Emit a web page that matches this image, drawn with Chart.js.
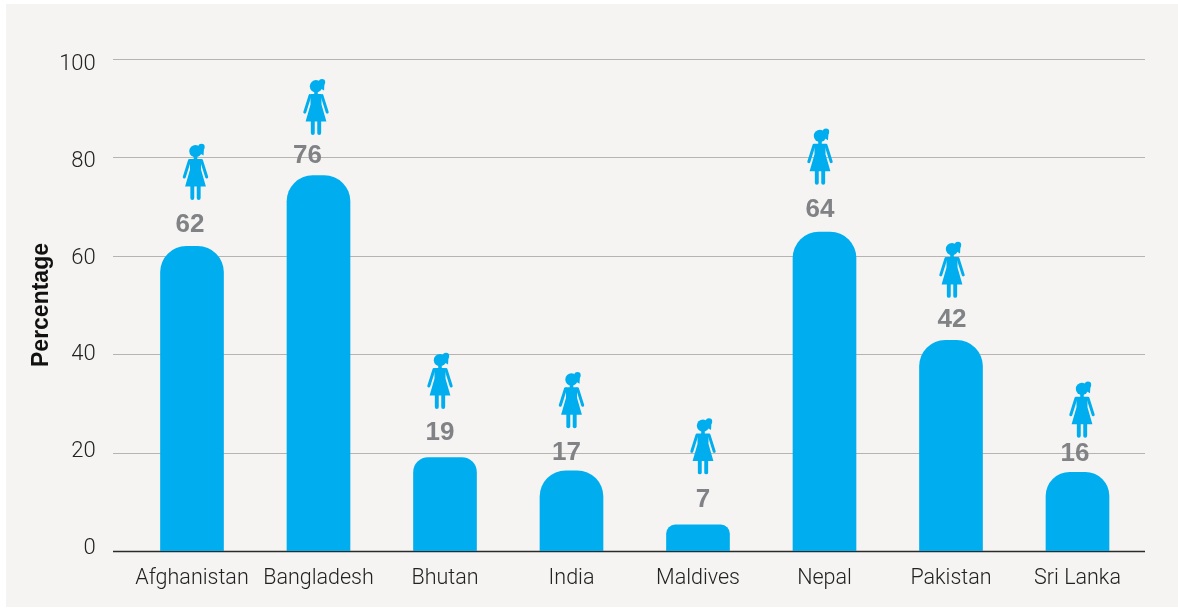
<!DOCTYPE html>
<html><head><meta charset="utf-8">
<script src="https://cdn.jsdelivr.net/npm/chart.js@4"></script>
<style>
html,body{margin:0;padding:0;background:#fff;width:1178px;height:608px;overflow:hidden}
#panel{position:absolute;left:6px;top:4px;width:1172px;height:603px;background:#f5f4f2}
#wrap{position:absolute;left:0;top:0;width:1178px;height:608px}
</style></head><body>
<div id="panel"></div>
<div id="wrap"><canvas id="c" width="1178" height="608"></canvas></div>
<script>
const categories=["Afghanistan","Bangladesh","Bhutan","India","Maldives","Nepal","Pakistan","Sri Lanka"];
const barHeights=[61.9,76.3,19,16.3,5.3,64.8,42.8,16];
const printedValues=[62,76,19,17,7,64,42,16];
const yTicks=[0,20,40,60,80,100];
const valueLabelShift=[-2,-11,-5,-5,5,-4.5,1,-2.5];
const valueLabelLift=[22,20,25,18,25,22,21,18];
const iconShift=[3.5,-2.5,-5,0,5,-4.5,1,4.5];
const iconLift=[103,97,105,99,107,104,99,91];
const cornerRadii=[26,26,15,26,9,26,26,24];

function drawGirl(ctx,x,top){
  ctx.save();
  ctx.translate(x,top);
  ctx.fillStyle='#00aeef';ctx.strokeStyle='#00aeef';
  ctx.beginPath();ctx.arc(0,7.7,6.2,0,Math.PI*2);ctx.fill();
  ctx.beginPath();ctx.arc(6,3.5,3.2,0,Math.PI*2);ctx.fill();
  ctx.beginPath();ctx.moveTo(2,3);ctx.lineTo(8.5,4.5);ctx.lineTo(8,12);ctx.lineTo(3,9);ctx.closePath();ctx.fill();
  ctx.fillRect(-1.8,12,3.6,5);
  ctx.beginPath();
  ctx.moveTo(-5.5,15.5);ctx.lineTo(5.5,15.5);ctx.lineTo(5.5,26);ctx.lineTo(10.4,43);
  ctx.lineTo(-10.4,43);ctx.lineTo(-5.5,26);ctx.closePath();ctx.fill();
  ctx.lineCap='round';ctx.lineWidth=3;
  ctx.beginPath();ctx.moveTo(-6,17);ctx.lineTo(-11.2,33.5);ctx.stroke();
  ctx.beginPath();ctx.moveTo(6,17);ctx.lineTo(11.2,33.5);ctx.stroke();
  ctx.lineWidth=3.9;
  ctx.beginPath();ctx.moveTo(-3.2,42);ctx.lineTo(-3.2,54.5);ctx.stroke();
  ctx.beginPath();ctx.moveTo(3.2,42);ctx.lineTo(3.2,54.5);ctx.stroke();
  ctx.restore();
}

const extendedRules={
  id:'extendedRules',
  beforeDatasetsDraw(chart){
    const ctx=chart.ctx,y=chart.scales.y;
    ctx.save();
    yTicks.forEach(v=>{
      const py=Math.round(y.getPixelForValue(v))+0.5;
      ctx.beginPath();ctx.moveTo(113,py);ctx.lineTo(1145,py);
      ctx.lineWidth=v===0?1.5:1;
      ctx.strokeStyle=v===0?'#2b2b2b':'#b5b4b1';
      ctx.stroke();
    });
    ctx.restore();
  }
};
const annotations={
  id:'annotations',
  afterDatasetsDraw(chart){
    const ctx=chart.ctx,meta=chart.getDatasetMeta(0);
    ctx.save();
    ctx.textAlign='center';ctx.textBaseline='middle';
    ctx.font='700 26px "Liberation Sans"';ctx.fillStyle='#808285';
    meta.data.forEach((bar,i)=>{
      ctx.fillText(String(printedValues[i]),bar.x+valueLabelShift[i],bar.y-valueLabelLift[i]);
      drawGirl(ctx,bar.x+iconShift[i],bar.y-iconLift[i]);
    });
    ctx.restore();
  }
};
new Chart(document.getElementById('c'),{
  type:'bar',
  data:{labels:categories,datasets:[{
    data:barHeights,
    yAxisID:'y',
    backgroundColor:'#00aeef',
    barThickness:63,
    borderSkipped:'bottom',
    borderRadius:ctx=>{
      const r=cornerRadii[ctx.dataIndex];
      return {topLeft:r,topRight:r,bottomLeft:0,bottomRight:0};
    }
  }]},
  plugins:[extendedRules,annotations],
  options:{
    responsive:false,animation:false,
    layout:{padding:{left:28,right:37.25,top:59,bottom:0}},
    plugins:{legend:{display:false},tooltip:{enabled:false}},
    scales:{
      x:{
        type:'category',
        afterFit(s){s.height=57;},
        grid:{display:false,drawTicks:false},border:{display:false},
        ticks:{font:{family:'Roboto',size:21.5,weight:'300'},color:'#222222',padding:14.6,maxRotation:0,autoSkip:false}
      },
      y:{display:false,min:0,max:100},
      yLabels:{
        position:'left',
        min:-0.52,max:101.14,
        afterFit(s){s.width=100.75;},
        afterBuildTicks(s){s.ticks=yTicks.map(value=>({value}));},
        grid:{display:false,drawTicks:false},border:{display:false},
        ticks:{font:{family:'Roboto',size:22,weight:'300'},color:'#222222',padding:33},
        title:{display:true,text:'Percentage',font:{family:'Liberation Sans',size:23,weight:'700'},color:'#111111',padding:0}
      }
    }
  }
});
</script>
</body></html>
